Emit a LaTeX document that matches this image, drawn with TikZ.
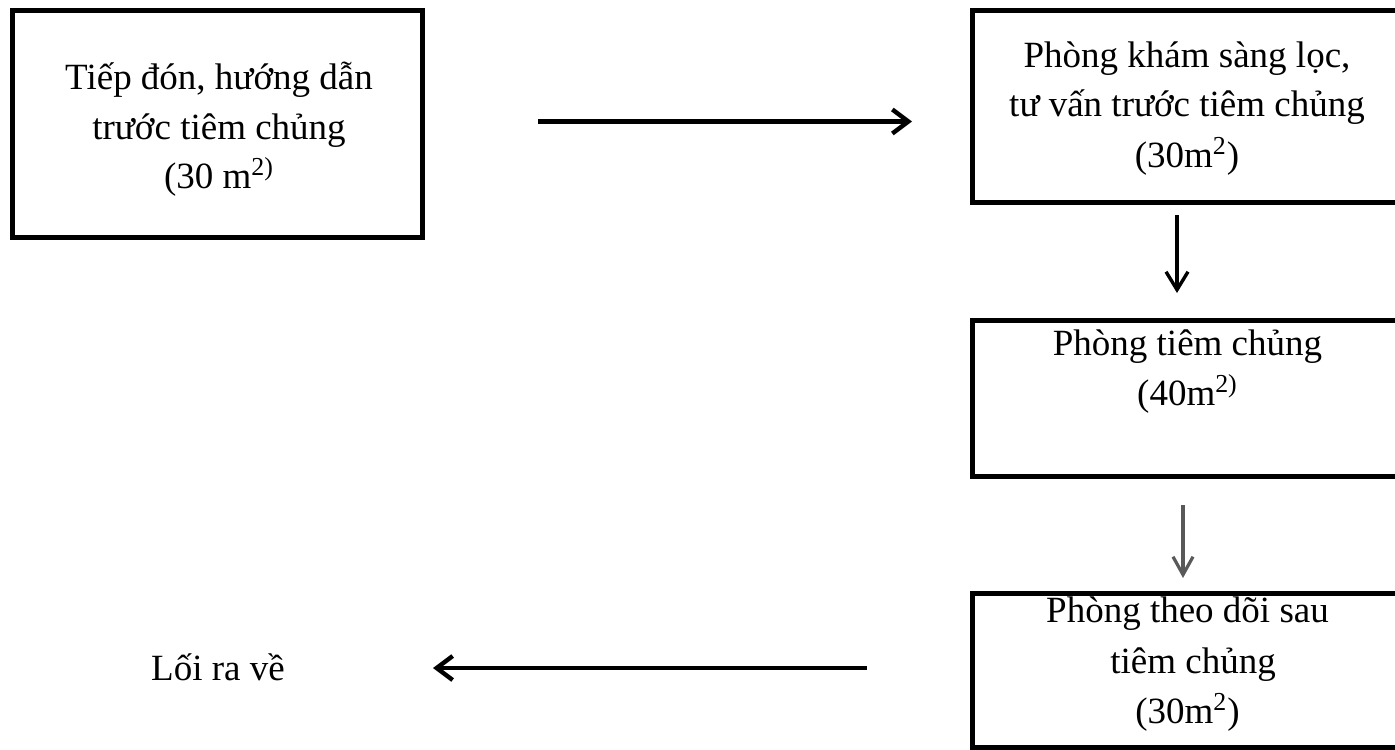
\documentclass[tikz,border=0pt]{standalone}
\usepackage{fontspec}
\setmainfont{Liberation Serif}
\usetikzlibrary{arrows.meta}
\begin{document}
\begin{tikzpicture}[x=0.5pt,y=-0.5pt,
  box/.style={draw=black,line width=2.5pt,inner sep=0pt,outer sep=0pt},
  txt/.style={anchor=base,inner sep=0pt,outer sep=0pt,font=\fontsize{18.5pt}{24.5pt}\selectfont},
  arr/.style={line width=2.2pt,-{Straight Barb[length=8pt,width=12pt,line width=2.2pt]}},
  arrthin/.style={line width=1.7pt,-{Straight Barb[length=9pt,width=11pt,line width=1.7pt]}},
  arrgray/.style={draw=black!65,line width=1.6pt,-{Straight Barb[length=9pt,width=10pt,line width=1.6pt]}}]
\useasboundingbox[fill=white] (0,0) rectangle (1395,749);
% boxes
\node[box,minimum width=205pt,minimum height=113.5pt] (b1) at (217.5,124) {};
\node[box,minimum width=223.75pt,minimum height=96pt] (b2) at (1196.25,106.5) {};
\node[box,minimum width=223.75pt,minimum height=78pt] (b3) at (1196.25,398.5) {};
\node[box,minimum width=223.75pt,minimum height=76.75pt] (b4) at (1196.25,670.25) {};
% texts
\node[txt] (t1a) at (219,90) {Tiếp đón, hướng dẫn};
\node[txt] (t1b) at (219,139) {trước tiêm chủng};
\node[txt] (t1c) at (219,188) {(30 m\textsuperscript{2)}};
\node[txt] (t2a) at (1187,68) {Phòng khám sàng lọc,};
\node[txt] (t2b) at (1187,117) {tư vấn trước tiêm chủng};
\node[txt] (t2c) at (1187,167) {(30m\textsuperscript{2})};
\node[txt] (t3a) at (1187.5,355) {Phòng tiêm chủng};
\node[txt] (t3b) at (1187.5,405) {(40m\textsuperscript{2)}};
\node[txt] (t4a) at (1187.5,622) {Phòng theo dõi sau};
\node[txt] (t4b) at (1193,673) {tiêm chủng};
\node[txt] (t4c) at (1187.5,723) {(30m\textsuperscript{2})};
\node[txt] (exit) at (218,680) {Lối ra về};
% arrow end points
\coordinate (r1s) at (538,121.5);
\coordinate (r1e) at (912,121.5);
\coordinate (d1s) at (1177,215);
\coordinate (d1e) at (1177,293);
\coordinate (d2s) at (1183,505);
\coordinate (d2e) at (1183,578);
\coordinate (l1s) at (867,668);
\coordinate (l1e) at (433,668);
% connectors
\draw[arr] (r1s) -- (r1e);
\draw[arrthin] (d1s) -- (d1e);
\draw[arrgray] (d2s) -- (d2e);
\draw[arr] (l1s) -- (l1e);
\end{tikzpicture}
\end{document}
